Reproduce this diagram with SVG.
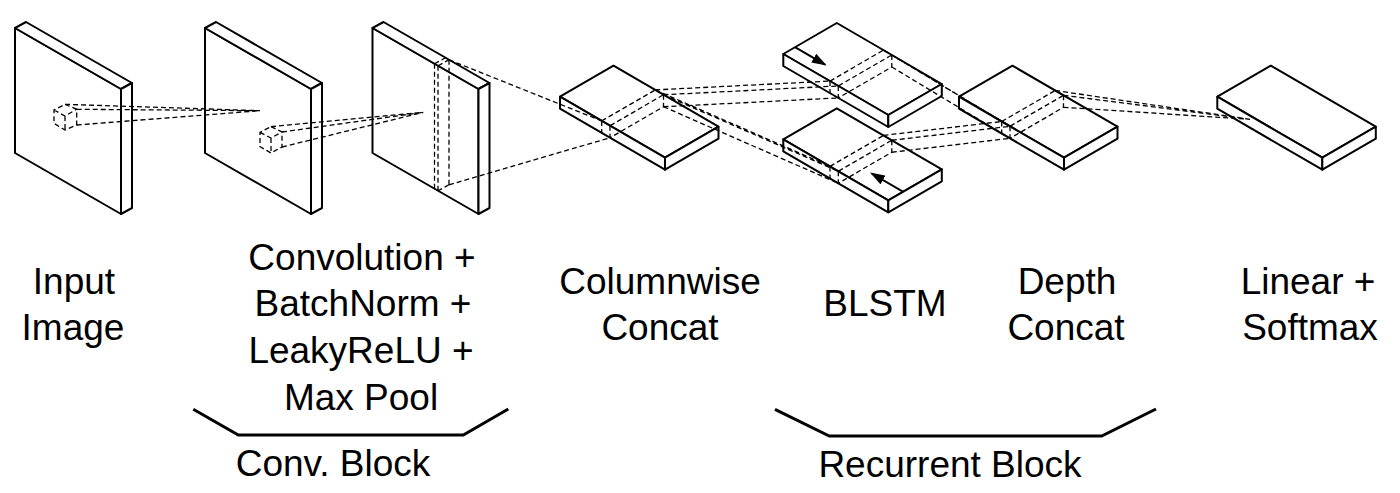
<svg xmlns="http://www.w3.org/2000/svg" width="1400" height="493" viewBox="0 0 1400 493">
<style>
.solid{fill:#fff;stroke:#000;stroke-width:2;stroke-linejoin:round}
.dash{fill:none;stroke:#000;stroke-width:1.3;stroke-dasharray:5 3}
.br{fill:none;stroke:#000;stroke-width:3;stroke-linejoin:miter}
.arr{stroke:#000;stroke-width:2;fill:none}
text{font-family:"Liberation Sans",Arial,Helvetica,sans-serif;font-size:37px;fill:#000;text-anchor:middle}
</style>
<defs>
<marker id="ah" viewBox="0 0 15 10" refX="13" refY="5" markerWidth="15" markerHeight="10" markerUnits="userSpaceOnUse" orient="auto">
<path d="M0,0 L15,5 L0,10 z" fill="#000"/>
</marker>
<g id="panel">
<polygon class="solid" points="0,28 106,89 106,214 0,153"/>
<polygon class="solid" points="0,28 11,22 117,83 106,89"/>
<polygon class="solid" points="106,89 117,83 117,208 106,214"/>
</g>
<g id="slab">
<polygon class="solid" points="0,0 53.5,-31 158.5,30 105,61"/>
<polygon class="solid" points="0,0 105,61 105,73 0,12"/>
<polygon class="solid" points="105,61 158.5,30 158.5,42 105,73"/>
</g>
</defs>

<g id="input-image">
<use href="#panel" x="15" y="0"/>
<path class="dash" d="M65,104.3 L76.7,109.3 L76.7,125 L65,130 L54,123.3 L54,110 Z M54,110 L65,116 L76.7,109.3 M65,116 L65,130"/>
<text x="74" y="294">Input</text>
<text x="73" y="340">Image</text>
</g>

<g id="conv1">
<use href="#panel" x="205" y="0"/>
<path class="dash" d="M271,126.7 L282,132 L282,147 L271,153 L260,146.7 L260,132.3 Z M260,132.3 L271,138 L282,132 M271,138 L271,153"/>
</g>

<g id="conv2">
<use href="#panel" x="372.5" y="0"/>
<path class="dash" d="M434.5,63.8 L434.5,188.8 M438,65.8 L438,190.8 M449,59.8 L449,184.8 M434.5,63.8 L445.5,57.8 L449,59.8 L438,65.8 M449,184.8 L438,190.8"/>
<text x="362" y="270">Convolution +</text>
<text x="363" y="316">BatchNorm +</text>
<text x="361" y="363">LeakyReLU +</text>
<text x="361" y="410">Max Pool</text>
</g>

<g id="columnwise-concat">
<use href="#slab" x="560" y="96.7"/>
<path class="dash" d="M601.7,120.9 L655.2,89.9 L663.5,94.75 L610,125.75 M601.7,120.9 L601.7,132.9 M610,125.75 L610,137.75 M663.5,94.75 L663.5,106.75 L610,137.75"/>
<text x="660" y="294">Columnwise</text>
<text x="660" y="340">Concat</text>
</g>

<g id="blstm-forward">
<use href="#slab" x="783.3" y="54"/>
<path class="dash" d="M830,81.1 L883.5,50.1 L891.8,54.96 L838.3,85.96 M830,81.1 L830,93.1 M838.3,85.96 L838.3,97.96 M891.8,54.96 L891.8,66.96 L838.3,97.96"/>
<line class="arr" x1="795" y1="47.2" x2="824.97" y2="64.6" marker-end="url(#ah)"/>
</g>

<g id="blstm-backward">
<use href="#slab" x="783.3" y="139.3"/>
<path class="dash" d="M830,166.4 L883.5,135.4 L891.8,140.26 L838.3,171.26 M830,166.4 L830,178.4 M838.3,171.26 L838.3,183.26 M891.8,140.26 L891.8,152.26 L838.3,183.26"/>
<line class="arr" x1="903.3" y1="191.8" x2="871.73" y2="173.5" marker-end="url(#ah)"/>
<text x="885" y="316">BLSTM</text>
</g>

<g id="depth-concat">
<use href="#slab" x="959" y="96.7"/>
<path class="dash" d="M1001.7,121.5 L1055.2,90.5 L1063.5,95.3 L1010,126.3 M1001.7,121.5 L1001.7,133.5 M1010,126.3 L1010,138.3 M1063.5,95.3 L1063.5,107.3 L1010,138.3"/>
<text x="1067" y="294">Depth</text>
<text x="1066" y="340">Concat</text>
</g>

<g id="linear-softmax">
<use href="#slab" x="1217.3" y="96.7"/>
<text x="1308" y="294">Linear +</text>
<text x="1310" y="340">Softmax</text>
</g>

<g id="connectors">
<path class="dash" d="M65,104.3 L260,110.7 M76.7,109.3 L260,110.7 M76.7,125 L260,110.7"/>
<path class="dash" d="M271,126.7 L423.3,112.3 M282,132 L423.3,112.3 M282,147 L423.3,112.3"/>
<path class="dash" d="M449,59.8 L601.7,120.9 M449,184.8 L610,137.75"/>
<path class="dash" d="M655.2,89.9 L830,81.1 M663.5,94.75 L838.3,85.96 M663.5,106.75 L838.3,97.96"/>
<path class="dash" d="M655.2,89.9 L830,166.4 M663.5,94.75 L838.3,171.26 M663.5,106.75 L838.3,183.26"/>
<path class="dash" d="M883.5,50.1 L1001.7,121.5 M891.8,54.96 L1010,126.3 M891.8,66.96 L1010,138.3"/>
<path class="dash" d="M883.5,135.4 L1001.7,121.5 M891.8,140.26 L1010,126.3 M891.8,152.26 L1010,138.3"/>
<path class="dash" d="M1055.2,90.5 L1250,119.3 M1063.5,95.3 L1250,119.3 M1063.5,107.3 L1250,119.3"/>
</g>

<g id="conv-block">
<polyline class="br" points="193.3,409.3 238.3,435 463.3,435 508.3,409"/>
<text x="333" y="476">Conv. Block</text>
</g>
<g id="recurrent-block">
<polyline class="br" points="775,409.3 829.3,436 1101.7,436 1156,409"/>
<text x="950" y="477">Recurrent Block</text>
</g>
</svg>
